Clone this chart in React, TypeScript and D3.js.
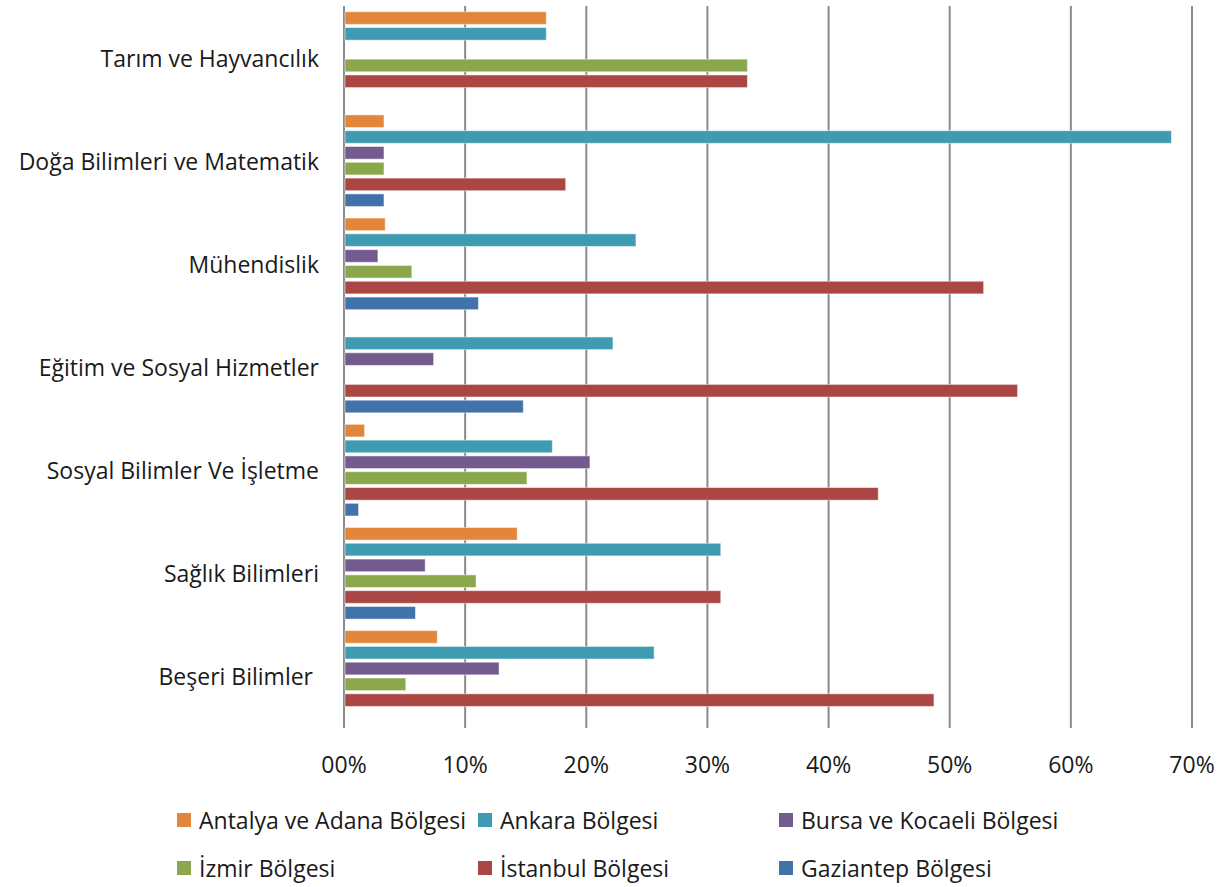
import React from 'react';
import * as d3 from 'd3';

const categories = [
  'Tarım ve Hayvancılık',
  'Doğa Bilimleri ve Matematik',
  'Mühendislik',
  'Eğitim ve Sosyal Hizmetler',
  'Sosyal Bilimler Ve İşletme',
  'Sağlık Bilimleri',
  'Beşeri Bilimler ',
];

const seriesNames = [
  'Antalya ve Adana Bölgesi',
  'Ankara Bölgesi',
  'Bursa ve Kocaeli Bölgesi',
  'İzmir Bölgesi',
  'İstanbul Bölgesi',
  'Gaziantep Bölgesi',
];

const seriesColors = ['#E2863B', '#3F9BB1', '#735A8F', '#8BA74B', '#AA4643', '#4172A9'];

// values in %, one array per series, in category order
const antalya = [16.7, 3.3, 3.4, 0, 1.7, 14.3, 7.7];
const ankara = [16.7, 68.3, 24.1, 22.2, 17.2, 31.1, 25.6];
const bursa = [0, 3.3, 2.8, 7.4, 20.3, 6.7, 12.8];
const izmir = [33.3, 3.3, 5.6, 0, 15.1, 10.9, 5.1];
const istanbul = [33.3, 18.3, 52.8, 55.6, 44.1, 31.1, 48.7];
const gaziantep = [0, 3.3, 11.1, 14.8, 1.2, 5.9, 0];

const seriesValues = [antalya, ankara, bursa, izmir, istanbul, gaziantep];

const tickValues = [0, 10, 20, 30, 40, 50, 60, 70];
const tickLabels = ['00%', '10%', '20%', '30%', '40%', '50%', '60%', '70%'];

const W = 1223;
const H = 887;
const FONT = "'Open Sans', sans-serif";
const FS = 23;

export default function App() {
  const left = 344;
  const right = 1192;
  const top = 6;
  const bottom = 728;

  const x = d3.scaleLinear().domain([0, 70]).range([left, right]);
  const y = d3.scaleBand<string>().domain(categories).range([top, bottom]).paddingInner(0.05).paddingOuter(0.025);
  const inner = d3
    .scaleBand<number>()
    .domain(d3.range(seriesNames.length))
    .range([0, y.bandwidth()])
    .padding(0.2);

  const legendX = [177, 478, 779];
  const legendY = [820, 868];

  return (
    <svg width={W} height={H} style={{ position: 'absolute', left: 0, top: 0, background: '#fff' }}>
      {/* vertical gridlines */}
      {tickValues.map((t) => (
        <line key={t} x1={x(t)} x2={x(t)} y1={top} y2={bottom} stroke="#8a8a8a" strokeWidth={2} />
      ))}

      {/* bars */}
      {categories.map((c, ci) => (
        <g key={c} transform={`translate(0,${y(c)})`}>
          {seriesValues.map((vals, si) =>
            vals[ci] > 0 ? (
              <rect
                key={si}
                x={x(0) + 1}
                y={inner(si)}
                width={x(vals[ci]) - x(0) - 1}
                height={inner.bandwidth()}
                fill={seriesColors[si]}
                stroke="#fff"
                strokeOpacity={0.5}
                strokeWidth={1}
              />
            ) : null
          )}
        </g>
      ))}

      {/* category labels */}
      {categories.map((c) => (
        <text
          key={c}
          x={319}
          y={(y(c) as number) + y.bandwidth() / 2}
          textAnchor="end"
          dominantBaseline="central"
          fontFamily={FONT}
          fontSize={FS}
          fill="#1a1a1a"
          style={{ whiteSpace: 'pre' }}
        >
          {c}
        </text>
      ))}

      {/* x tick labels */}
      {tickValues.map((t, i) => (
        <text
          key={t}
          x={x(t)}
          y={764}
          textAnchor="middle"
          dominantBaseline="central"
          fontFamily={FONT}
          fontSize={FS}
          fill="#1a1a1a"
        >
          {tickLabels[i]}
        </text>
      ))}

      {/* legend */}
      {seriesNames.map((name, i) => {
        const lx = legendX[i % 3];
        const ly = legendY[Math.floor(i / 3)];
        return (
          <g key={name}>
            <rect x={lx} y={ly - 7} width={14} height={14} fill={seriesColors[i]} />
            <text x={lx + 22} y={ly} dominantBaseline="central" fontFamily={FONT} fontSize={FS} fill="#1a1a1a">
              {name}
            </text>
          </g>
        );
      })}
    </svg>
  );
}
